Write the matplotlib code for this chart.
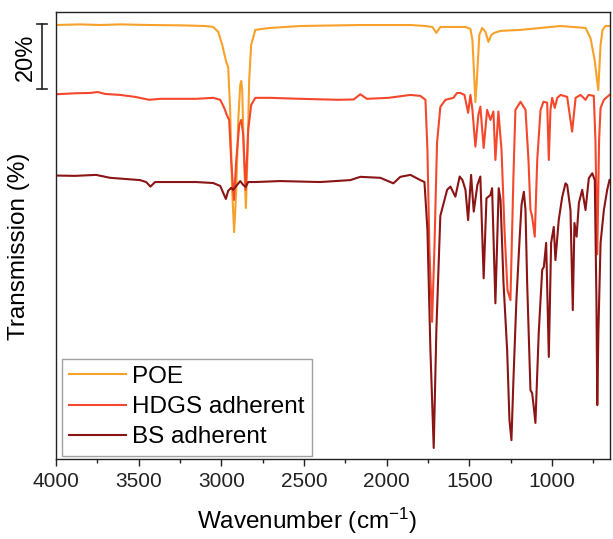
import numpy as np
import matplotlib
matplotlib.use('Agg')
import matplotlib.pyplot as plt
import matplotlib.transforms as mtransforms
from matplotlib.ticker import MultipleLocator

plt.rcParams['font.family'] = ['Liberation Sans', 'DejaVu Sans']
plt.rcParams['mathtext.fontset'] = 'custom'
plt.rcParams['mathtext.rm'] = 'Liberation Sans'
plt.rcParams['mathtext.it'] = 'Liberation Sans'

# FTIR spectra: wavenumber (cm-1) and transmission (%)
poe_wn = [4000, 3855, 3734, 3613, 3431, 3249, 3098, 3050, 3019, 2995, 2971, 2959,
          2947, 2935, 2923, 2910, 2898, 2886, 2880, 2874, 2865, 2852, 2841, 2832,
          2820, 2795, 2753, 2705, 2614, 2523, 2160, 1857, 1766, 1724, 1700, 1676,
          1524, 1494, 1482, 1470, 1464, 1455, 1440, 1423, 1403, 1385, 1367, 1349,
          1331, 1312, 1191, 1070, 949, 798, 768, 743, 721, 707, 695, 677, 647]
poe_t = [93.5, 93.7, 93.5, 93.7, 93.5, 93.4, 93.2, 92.9, 91.4, 87.4, 82.2, 80.6,
         67.4, 42.8, 29.8, 42.8, 64.3, 75.1, 76.3, 73.5, 55.1, 37.2, 55.1, 76.6,
         87.4, 92.0, 92.3, 92.6, 92.9, 93.2, 93.5, 93.5, 93.2, 92.9, 91.1, 92.9,
         92.9, 92.3, 88.9, 76.6, 69.8, 76.6, 90.5, 92.6, 91.4, 88.3, 90.5, 91.1,
         91.4, 91.7, 92.0, 92.6, 93.2, 92.6, 89.5, 82.8, 73.5, 87.4, 92.0, 93.2, 93.2]

hdgs_wn = [4000, 3885, 3794, 3748, 3703, 3613, 3522, 3437, 3370, 3153, 3050, 3007,
           2983, 2967, 2953, 2941, 2924, 2910, 2892, 2880, 2868, 2853, 2838, 2820,
           2795, 2705, 2523, 2293, 2200, 2160, 2120, 1990, 1857, 1797, 1766, 1754,
           1742, 1726, 1712, 1696, 1676, 1645, 1597, 1575, 1555, 1530, 1508, 1494,
           1482, 1464, 1446, 1434, 1414, 1393, 1373, 1355, 1343, 1325, 1306, 1288,
           1270, 1252, 1234, 1222, 1191, 1173, 1161, 1143, 1131, 1121, 1105, 1090,
           1070, 1052, 1030, 1020, 1010, 1000, 984, 969, 949, 909, 879, 858, 828,
           798, 780, 748, 738, 727, 716, 707, 687, 653]
hdgs_t = [94.2, 94.5, 94.6, 94.9, 94.3, 94.0, 93.4, 92.5, 92.8, 92.8, 93.1, 92.5,
          90.0, 87.8, 86.3, 74.0, 61.7, 74.0, 84.8, 86.3, 81.7, 64.8, 83.2, 90.9,
          93.1, 93.1, 92.8, 92.5, 92.6, 94.2, 92.8, 93.1, 94.0, 93.7, 92.5, 77.1,
          46.3, 24.2, 46.3, 79.2, 90.3, 92.5, 93.1, 94.6, 94.6, 94.0, 88.5, 94.0,
          89.4, 78.1, 87.8, 90.4, 77.7, 89.4, 86.3, 88.9, 74.0, 88.9, 77.1, 52.5,
          34.0, 30.9, 68.8, 89.4, 91.9, 90.4, 89.4, 74.0, 58.6, 56.6, 50.4, 74.0,
          89.4, 91.9, 91.6, 74.0, 89.4, 93.1, 90.0, 93.1, 94.0, 93.4, 82.7, 93.1, 94.0,
          92.5, 94.0, 93.7, 80.0, 45.0, 80.0, 90.0, 92.5, 94.0]

bs_wn = [4000, 3885, 3758, 3673, 3492, 3455, 3429, 3401, 3370, 3153, 3050, 3007,
         2973, 2959, 2941, 2929, 2910, 2886, 2868, 2853, 2838, 2795, 2644, 2402,
         2220, 2160, 2039, 1960, 1918, 1857, 1797, 1772, 1754, 1736, 1716, 1700,
         1676, 1635, 1615, 1585, 1559, 1542, 1524, 1508, 1490, 1474, 1452, 1434,
         1414, 1397, 1373, 1363, 1343, 1323, 1312, 1294, 1272, 1258, 1246, 1234,
         1216, 1197, 1185, 1171, 1161, 1151, 1131, 1121, 1111, 1101, 1081, 1060,
         1050, 1036, 1020, 1006, 990, 980, 960, 939, 919, 909, 889, 875, 865, 852,
         838, 818, 798, 778, 757, 742, 732, 727, 720, 707, 687, 667, 653]
bs_t = [93.2, 93.1, 93.4, 92.5, 91.8, 91.2, 89.8, 91.2, 91.2, 91.2, 90.9, 90.0,
        86.0, 88.5, 89.4, 88.8, 90.0, 91.5, 90.3, 89.7, 91.2, 91.2, 91.5, 91.2,
        91.8, 92.8, 92.5, 90.8, 92.8, 93.4, 91.8, 91.2, 76.5, 39.5, 9.4, 45.7,
        80.8, 88.8, 89.8, 86.7, 92.9, 91.8, 88.8, 79.5, 93.4, 82.1, 90.3, 92.9,
        61.6, 86.2, 87.2, 89.3, 53.9, 89.3, 85.7, 60.2, 39.5, 18.0, 11.8, 30.3,
        54.9, 73.4, 84.2, 88.2, 82.6, 60.2, 27.2, 26.3, 22.0, 17.1, 44.8, 64.2,
        65.1, 72.5, 37.4, 72.5, 77.4, 67.2, 79.5, 86.6, 90.8, 90.3, 82.6, 51.8, 78.6, 74.4,
        84.8, 88.8, 82.6, 92.4, 93.9, 91.8, 54.9, 22.6, 45.7, 72.5, 82.6, 88.8, 91.8]

labels = ['POE', 'HDGS adherent', 'BS adherent']
colors = ['#F7A12A', '#F4472B', '#8B1414']
offsets = [40, 18, -6]

fig = plt.figure(figsize=(6.13, 5.39), dpi=100)
ax = fig.add_axes([0.0914, 0.1484, 0.9037, 0.8293])

for wn, t, lab, c, off in zip([poe_wn, hdgs_wn, bs_wn], [poe_t, hdgs_t, bs_t],
                              labels, colors, offsets):
    ax.plot(wn, np.array(t) + off, color=c, lw=1.5, label=lab)

ax.set_xlim(4000, 650)
ax.set_ylim(0, 137.5)
ax.xaxis.set_major_locator(MultipleLocator(500))
ax.xaxis.set_minor_locator(MultipleLocator(250))
ax.tick_params(axis='x', which='major', direction='out', length=5, width=1,
               labelsize=15, pad=4, colors='#222222')
ax.tick_params(axis='x', which='minor', direction='out', length=3, width=1,
               colors='#222222')
ax.tick_params(axis='y', left=False, labelleft=False)
for s in ax.spines.values():
    s.set_linewidth(1.0)
    s.set_color('#222222')

ax.set_xlabel(r'Wavenumber (cm$^{-1}$)', fontsize=17.5)
ax.xaxis.set_label_coords(0.453, -0.105)
ax.set_ylabel('Transmission (%)', fontsize=17.5)
ax.yaxis.set_label_coords(-0.047, 0.4765)

# 20% scale bar
trans = mtransforms.blended_transform_factory(ax.transAxes, ax.transData)
bar_lo, bar_hi = 113.7, 133.7
ax.plot([-0.0253, -0.0253], [bar_lo, bar_hi], color='#222222', lw=1.2,
        transform=trans, clip_on=False)
for yy in (bar_lo, bar_hi):
    ax.plot([-0.0343, -0.0162], [yy, yy], color='#222222', lw=1.2,
            transform=trans, clip_on=False)
ax.text(-0.054, (bar_lo + bar_hi) / 2, '20%', rotation=90, ha='center',
        va='center', fontsize=17, transform=trans)

leg = ax.legend(loc='lower left', bbox_to_anchor=(0.0103, 0.0074),
                borderaxespad=0, fontsize=17.5, handlelength=2.35,
                handletextpad=0.25, labelspacing=0.34, borderpad=0.3,
                fancybox=False, frameon=True)
leg.get_frame().set_edgecolor('#888888')
leg.get_frame().set_linewidth(1.0)

plt.savefig('out.png', dpi=100)
